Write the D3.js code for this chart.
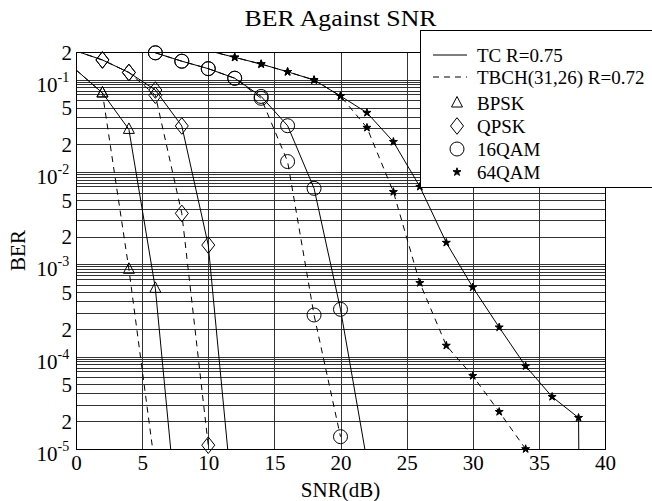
<!DOCTYPE html>
<html>
<head>
<meta charset="utf-8">
<script src="https://cdn.jsdelivr.net/npm/d3@7"></script>
<style>
body { margin: 0; background: #fff; }
text { font-family: "Liberation Serif", "Times New Roman", serif; fill: #000; }
</style>
</head>
<body>
<div id="chart-area"></div>
<script>
// values
const snrTicks = [0, 5, 10, 15, 20, 25, 30, 35, 40];
const berLabels = [0.2, 1e-1, 5e-2, 2e-2, 1e-2, 5e-3, 2e-3, 1e-3, 5e-4, 2e-4, 1e-4, 5e-5, 2e-5, 1e-5];
const gridMantissas = [9.5, 8.9, 8.3, 7.6, 7, 6, 5, 4, 3, 2];
const gridDecades = [1e-2, 1e-3, 1e-4, 1e-5, 1e-6];

const bpskSnr = [0, 2, 4, 6, 8];
const bpskTC = [0.128, 0.072, 0.029, 5.5e-4, 5.5e-7];
const bpskTBCH = [0.128, 0.072, 8.85e-4, 6e-6, null];

const qpskSnr = [0, 2, 4, 6, 8, 10, 12];
const qpskTC = [0.205, 0.164, 0.12, 0.0775, 0.0316, 1.62e-3, 1.6e-6];
const qpskTBCH = [0.205, 0.164, 0.12, 0.068, 3.57e-3, 1.1e-5, null];

const qam16Snr = [6, 8, 10, 12, 14, 16, 18, 20, 22];
const qam16TC = [0.196, 0.159, 0.132, 0.104, 0.066, 0.0318, 6.67e-3, 3.26e-4, 7.4e-6];
const qam16TBCH = [0.196, 0.159, 0.132, 0.104, 0.063, 0.013, 2.83e-4, 1.36e-5, null];

const qam64Snr = [10, 12, 14, 16, 18, 20, 22, 24, 26, 28, 30, 32, 34, 36, 38, 40];
const qam64TC = [0.207, 0.175, 0.148, 0.122, 0.0995, 0.0667, 0.044, 0.0213, 6.95e-3, 1.72e-3, 5.65e-4, 2.08e-4, 7.9e-5, 3.68e-5, 2.18e-5, 1e-40];
const qam64TBCH = [0.207, 0.175, 0.148, 0.122, 0.0995, 0.0667, 0.0303, 6.1e-3, 6.3e-4, 1.32e-4, 6.2e-5, 2.53e-5, 1.0e-5, null, null, null];

const legendCodes = ["TC R=0.75", "TBCH(31,26) R=0.72"];
const legendMods = ["BPSK", "QPSK", "16QAM", "64QAM"];

const margin = { top: 52, right: 47, bottom: 52, left: 76 };
const width = 529;
const height = 397;
const serif = "\"Liberation Serif\", \"Times New Roman\", serif";

// marker shapes
const triangle = { draw(c) { c.moveTo(0, -6.5); c.lineTo(5.5, 4); c.lineTo(-5.5, 4); c.closePath(); } };
const diamond = { draw(c) { c.moveTo(0, -8.3); c.lineTo(6.5, 0); c.lineTo(0, 8.3); c.lineTo(-6.5, 0); c.closePath(); } };
const ring = { draw(c) { c.moveTo(7, 0); c.arc(0, 0, 7, 0, 2 * Math.PI); } };

const mods = [
    { name: "BPSK", snr: bpskSnr, tc: bpskTC, tbch: bpskTBCH, type: triangle, size: 64, fill: "none" },
    { name: "QPSK", snr: qpskSnr, tc: qpskTC, tbch: qpskTBCH, type: diamond, size: 64, fill: "none" },
    { name: "16QAM", snr: qam16Snr, tc: qam16TC, tbch: qam16TBCH, type: ring, size: 64, fill: "none" },
    { name: "64QAM", snr: qam64Snr, tc: qam64TC, tbch: qam64TBCH, type: d3.symbolStar, size: 20, fill: "#000" }
];

const svg = d3.select("#chart-area")
    .append("svg")
    .attr("width", width + margin.left + margin.right)
    .attr("height", height + margin.top + margin.bottom);

const g = svg.append("g")
    .attr("transform", "translate(" + margin.left + ", " + margin.top + ")");

const x = d3.scaleLinear().domain([0, 40]).range([0, width]);
const y = d3.scaleLog().domain([1e-5, 0.2]).range([height, 0]);

// grid
const gridValues = [];
gridDecades.forEach((dec) => {
    gridMantissas.forEach((m) => {
        const v = m * dec;
        if (v >= 1e-5 && v < 0.2) gridValues.push(v);
    });
    if (dec * 10 < 0.2) gridValues.push(dec * 10);
});

g.append("g")
    .attr("class", "grid")
    .call(d3.axisLeft(y).tickValues(gridValues).tickSize(-width).tickFormat(""))
    .call((a) => a.select(".domain").remove())
    .selectAll("line")
    .attr("stroke", "#333")
    .attr("shape-rendering", "crispEdges");

g.append("g")
    .attr("class", "grid")
    .attr("transform", "translate(0, " + height + ")")
    .call(d3.axisBottom(x).tickValues(snrTicks.slice(1, -1)).tickSize(-height).tickFormat(""))
    .call((a) => a.select(".domain").remove())
    .selectAll("line")
    .attr("stroke", "#333")
    .attr("shape-rendering", "crispEdges");

g.append("rect")
    .attr("width", width)
    .attr("height", height)
    .attr("fill", "none")
    .attr("stroke", "#000")
    .attr("shape-rendering", "crispEdges");

// axes labels
const bottomAxis = d3.axisBottom(x).tickValues(snrTicks).tickSize(0).tickPadding(6);
g.append("g")
    .attr("class", "bottom axis")
    .attr("transform", "translate(0, " + height + ")")
    .call(bottomAxis)
    .call((a) => a.select(".domain").remove())
    .selectAll("text")
    .attr("font-family", serif)
    .attr("font-size", "21px");

const leftAxis = d3.axisLeft(y).tickValues(berLabels).tickSize(0).tickPadding(4).tickFormat("");
g.append("g")
    .attr("class", "left axis")
    .call(leftAxis)
    .call((a) => a.select(".domain").remove())
    .selectAll("text")
    .attr("font-family", serif)
    .attr("font-size", "21px")
    .each(function (d) {
        const t = d3.select(this);
        const e = Math.floor(Math.log10(d) + 1e-9);
        const m = Math.round(d / Math.pow(10, e));
        if (m === 1) {
            t.attr("text-anchor", "start").attr("x", -39.5).attr("dy", "11.5px");
            t.append("tspan").text("10");
            t.append("tspan").attr("dy", -10).attr("font-size", "14px").text(String(e));
        } else {
            t.attr("dy", "0.35em").text(m);
        }
    });

svg.append("text")
    .attr("x", margin.left + width / 2)
    .attr("y", 26)
    .attr("font-size", "24px")
    .attr("text-anchor", "middle")
    .attr("textLength", 192)
    .attr("lengthAdjust", "spacingAndGlyphs")
    .text("BER Against SNR");

svg.append("text")
    .attr("x", margin.left + width / 2)
    .attr("y", 497)
    .attr("font-size", "21px")
    .attr("text-anchor", "middle")
    .text("SNR(dB)");

svg.append("text")
    .attr("transform", "translate(25, " + (margin.top + height / 2) + ") rotate(-90)")
    .attr("font-size", "21px")
    .attr("text-anchor", "middle")
    .text("BER");

// curves
svg.append("clipPath")
    .attr("id", "plot-clip")
    .append("rect")
    .attr("width", width)
    .attr("height", height);

const line = d3.line()
    .defined((d) => d.ber != null)
    .x((d) => x(d.snr))
    .y((d) => y(d.ber));

const curves = g.append("g").attr("clip-path", "url(#plot-clip)");
const marks = g.append("g");

mods.forEach((mod) => {
    [["tc", null], ["tbch", "6,5"]].forEach(([key, dash]) => {
        const pts = mod.snr.map((s, i) => ({ snr: s, ber: mod[key][i] }));
        curves.append("path")
            .datum(pts)
            .attr("d", line)
            .attr("fill", "none")
            .attr("stroke", "#000")
            .attr("stroke-width", 1)
            .attr("stroke-dasharray", dash);

        const shown = pts.filter((d) => d.ber != null && d.snr > 0 && d.ber >= 0.99e-5 && d.ber <= 0.2);
        marks.selectAll(null)
            .data(shown)
            .enter()
            .append("path")
            .attr("transform", (d) => "translate(" + x(d.snr) + ", " + y(d.ber) + ")")
            .attr("d", d3.symbol().type(mod.type).size(mod.size))
            .attr("fill", mod.fill)
            .attr("stroke", "#000")
            .attr("stroke-width", 1);
    });
});

// legend
const lg = svg.append("g").attr("transform", "translate(420, 30)");
lg.append("rect")
    .attr("width", 260)
    .attr("height", 157)
    .attr("fill", "#fff")
    .attr("stroke", "#000")
    .attr("shape-rendering", "crispEdges");

legendCodes.forEach((label, i) => {
    const ly = 25 + i * 22;
    lg.append("line")
        .attr("x1", 13).attr("x2", 47)
        .attr("y1", ly).attr("y2", ly)
        .attr("stroke", "#000")
        .attr("stroke-dasharray", i === 1 ? "6,5" : null);
    lg.append("text")
        .attr("x", 57).attr("y", ly)
        .attr("dy", "0.35em")
        .attr("font-size", "19px")
        .text(label);
});

legendMods.forEach((label, i) => {
    const ly = 73 + i * 23;
    const mod = mods.find((m) => m.name === label);
    lg.append("path")
        .attr("transform", "translate(37, " + ly + ")")
        .attr("d", d3.symbol().type(mod.type).size(mod.size))
        .attr("fill", mod.fill)
        .attr("stroke", "#000");
    lg.append("text")
        .attr("x", 57).attr("y", ly)
        .attr("dy", "0.35em")
        .attr("font-size", "19px")
        .text(label);
});
</script>
</body>
</html>
